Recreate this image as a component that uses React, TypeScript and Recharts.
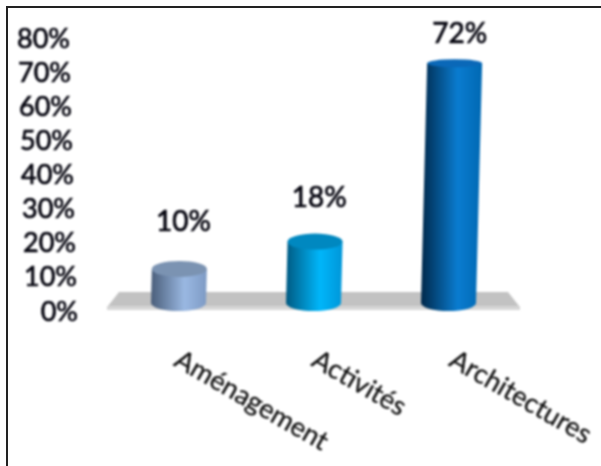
import React from "react";
import { BarChart, Bar, XAxis, YAxis, ReferenceArea, LabelList, Cell } from "recharts";

const categories = ["Aménagement", "Activités", "Architectures"];
const shares = [10, 18, 72];
const yTicks = [0, 10, 20, 30, 40, 50, 60, 70, 80];
const floorTop = 5.3;
const bodyStops = [
  ["#4a5e7a", "#9ab8e2", "#7d9ac4"],
  ["#005a82", "#00b6fa", "#0096d8"],
  ["#00284a", "#0a7cd0", "#0068b2"],
];
const capColors = ["#7b93b2", "#0088c0", "#0a68b8"];
const data = categories.map((name, i) => ({ name, share: shares[i] }));
const FONT = "Lato, Carlito, sans-serif";

function Cylinder(props: any) {
  const { x, y, width, height, index, value } = props;
  const v = Array.isArray(value) ? value[1] : value;
  const id = `cyl${index}`;
  const stops = bodyStops[index];
  const lean = height * 0.025;
  const baseY = y + height - 7;
  const ry = Math.max(4, 8 - Math.max(0, v - 18) * 0.074);
  const topY = y - Math.max(1, 7 - Math.max(0, v - 18) * 0.11);
  const rx = width / 2;
  const d = `M${x},${baseY} L${x + lean},${topY} L${x + lean + width},${topY} L${x + width},${baseY} A${rx},8 0 0 1 ${x},${baseY} Z`;
  return (
    <g>
      <defs>
        <linearGradient id={id} x1="0" y1="0" x2="1" y2="0">
          <stop offset="0%" stopColor={stops[0]} />
          <stop offset="60%" stopColor={stops[1]} />
          <stop offset="100%" stopColor={stops[2]} />
        </linearGradient>
      </defs>
      <path d={d} fill={`url(#${id})`} />
      <ellipse cx={x + lean + rx} cy={topY} rx={rx} ry={ry} fill={capColors[index]} />
    </g>
  );
}

function Floor(props: any) {
  const { x, y, width, height } = props;
  const inset = 8;
  const band = height * 0.22;
  const bottom = y + height;
  return (
    <g>
      <polygon
        points={`${x + inset},${y} ${x + width - inset},${y} ${x + width + 3},${bottom - band} ${x - 3},${bottom - band}`}
        fill="#c2c2c2"
      />
      <rect x={x - 4} y={bottom - band} width={width + 8} height={band} fill="#d6d6d6" />
    </g>
  );
}

function CategoryTick(props: any) {
  const { x, y, payload, index } = props;
  const tx = x - 6 + index * 2.5;
  const ty = y + 47;
  return (
    <text
      x={tx}
      y={ty}
      transform={`rotate(30 ${tx} ${ty})`}
      textAnchor="start"
      fontFamily={FONT}
      fontSize={27}
      fill="#111"
      stroke="#111"
      strokeWidth={0.3}
    >
      {payload.value}
    </text>
  );
}

function ValueTick(props: any) {
  const { x, y, payload } = props;
  return (
    <text
      x={x + 3 - payload.value * 0.1}
      y={y}
      textAnchor="end"
      dominantBaseline="central"
      fontFamily={FONT}
      fontSize={27}
      fill="#05050f"
      stroke="#05050f"
      strokeWidth={0.7}
    >
      {`${payload.value}%`}
    </text>
  );
}

function ShareLabel(props: any) {
  const { x, y, width, value } = props;
  return (
    <text
      x={x + width / 2 + 4 + value * 0.1}
      y={y - (60 - value * 0.39)}
      textAnchor="middle"
      dominantBaseline="central"
      fontFamily={FONT}
      fontSize={28}
      fill="#05050f"
      stroke="#05050f"
      strokeWidth={0.7}
    >
      {`${value}%`}
    </text>
  );
}

export default function App() {
  return (
    <div style={{ position: "absolute", left: 0, top: 0, width: 601, height: 466, overflow: "hidden", background: "#fff" }}>
      <div style={{ filter: "blur(0.8px)" }}>
        <BarChart
          width={601}
          height={466}
          data={data}
          margin={{ top: 37, right: 85, bottom: 0, left: 0 }}
          barCategoryGap={0}
        >
          <YAxis
            domain={[0, 80]}
            ticks={yTicks}
            interval={0}
            width={111}
            tickLine={false}
            axisLine={false}
            tickSize={0}
            tickMargin={36}
            tick={<ValueTick />}
          />
          <XAxis
            dataKey="name"
            height={156}
            interval={0}
            tickLine={false}
            axisLine={false}
            tick={<CategoryTick />}
          />
          <ReferenceArea y1={0} y2={floorTop} ifOverflow="visible" shape={<Floor />} />
          <Bar dataKey="share" barSize={55} isAnimationActive={false} shape={<Cylinder />}>
            {data.map((d) => (
              <Cell key={d.name} />
            ))}
            <LabelList dataKey="share" content={<ShareLabel />} />
          </Bar>
        </BarChart>
      </div>
      <div style={{ position: "absolute", left: 6, top: 6, right: -4, bottom: -4, borderLeft: "2px solid #222", borderTop: "2px solid #222" }} />
    </div>
  );
}
